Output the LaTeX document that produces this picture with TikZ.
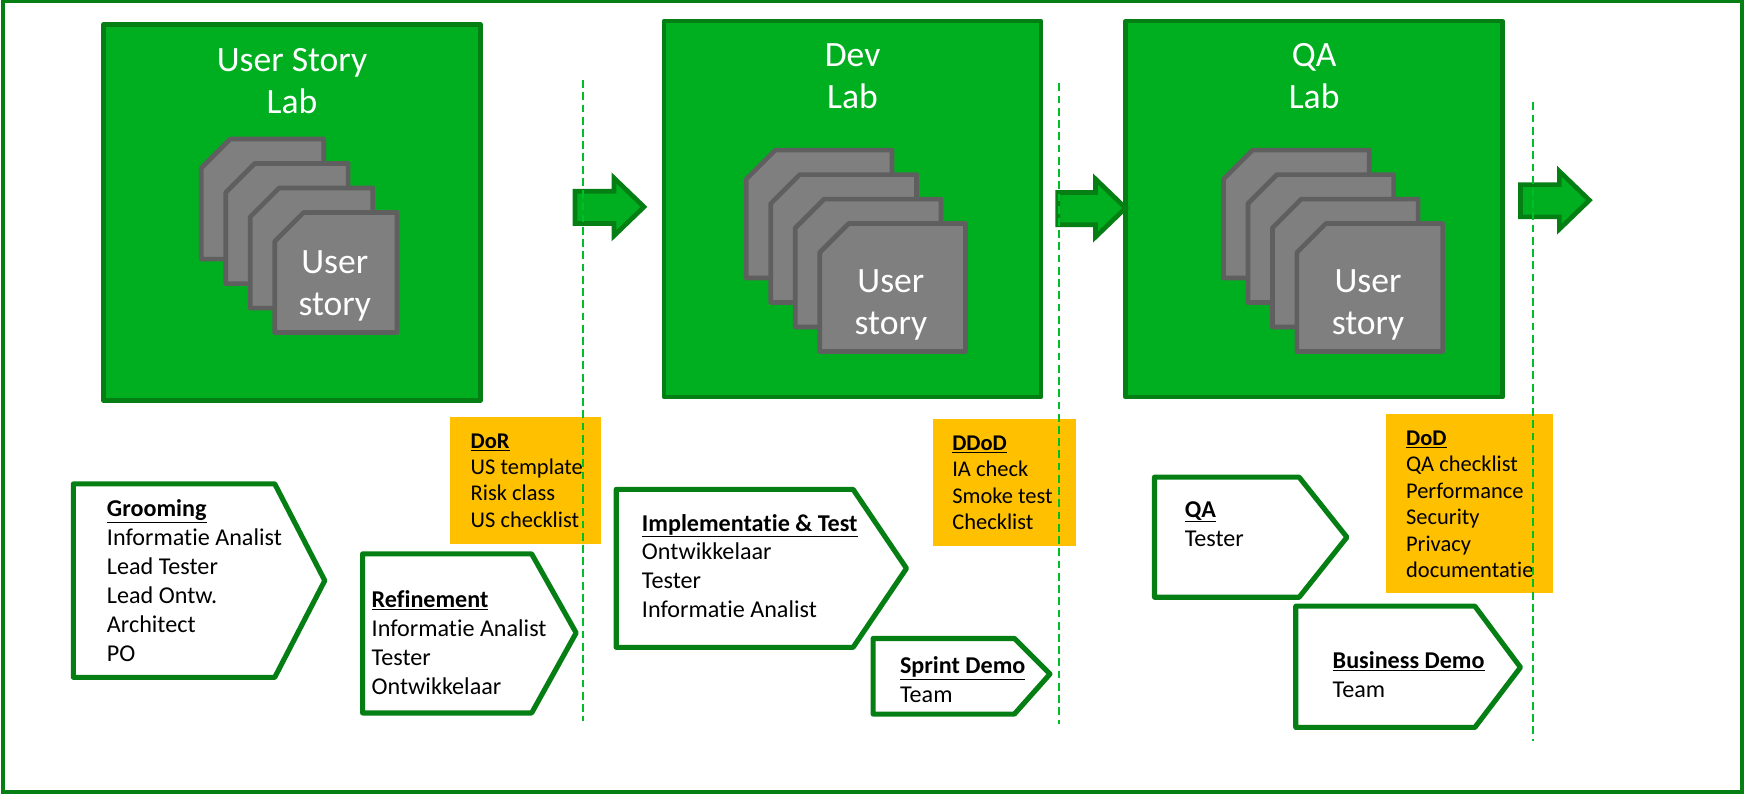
\documentclass[tikz,border=0pt]{standalone}
\usepackage{fontspec}
\setmainfont[Ligatures={NoCommon}]{Carlito}
\definecolor{labgreen}{HTML}{00AF1F}
\definecolor{darkgreen}{HTML}{057F14}
\definecolor{gategreen}{HTML}{00BE28}
\definecolor{cardgray}{HTML}{7F7F7F}
\definecolor{cardedge}{HTML}{5F5F5F}
\definecolor{checkyellow}{HTML}{FFC000}
\tikzset{
  labbox/.style={draw=darkgreen,fill=labgreen,line width=4pt,line join=round},
  labtitle/.style={text=white,font=\fontsize{32}{38}\selectfont,align=center,inner sep=0pt,anchor=north},
  storycard/.style={draw=cardedge,fill=cardgray,line width=4.2pt,line join=round},
  cardtext/.style={text=white,font=\fontsize{32}{38}\selectfont,align=center,inner sep=0pt},
  flowarrow/.style={draw=darkgreen,fill=labgreen,line width=4.2pt,line join=miter},
  gateline/.style={draw=gategreen,line width=1.5pt,dash pattern=on 7pt off 4pt},
  checkbox/.style={fill=checkyellow},
  activity/.style={draw=darkgreen,fill=white,line width=4.6pt,line join=round},
  steptext/.style={font=\fontsize{21.7}{26}\selectfont,align=left,inner sep=0pt,anchor=north west},
  checktext/.style={font=\fontsize{20.2}{23.8}\selectfont,align=left,inner sep=0pt,anchor=north west},
}
\newcommand{\headline}[1]{\underline{\textbf{#1}}}
% one stack of four cards, first corner at #1,#2, size #3 x #4
\newcommand{\cardstack}[4]{
  \foreach \k in {0,1,2,3}
    \draw[storycard] ({#1+22*\k},{#2+22*\k+26}) -- ({#1+22*\k+26},{#2+22*\k}) -- ({#1+22*\k+#3},{#2+22*\k})
      -- ({#1+22*\k+#3},{#2+22*\k+#4}) -- ({#1+22*\k},{#2+22*\k+#4}) -- cycle;
}
\begin{document}
\begin{tikzpicture}[x=1pt,y=-1pt]
  \useasboundingbox (0,0) rectangle (1568,713);
  \draw[darkgreen,line width=3.5pt] (3,1) -- (1566,1) -- (1566,712) -- (3,712) -- cycle;

  % labs
  \draw[labbox] (93,22) rectangle (432,360);
  \draw[labbox] (597,19) rectangle (936,357);
  \draw[labbox] (1012,19) rectangle (1351,357);
  \node[labtitle] (storytitle) at (262.5,43) {User Story\\Lab};
  \node[labtitle] (devtitle) at (766.5,39) {Dev\\Lab};
  \node[labtitle] (qatitle) at (1181.5,39) {QA\\Lab};

  \cardstack{181}{125}{110}{108}
  \cardstack{671}{135}{131}{115}
  \cardstack{1100}{135}{131}{115}
  \node[cardtext] (storycard) at (301,257) {User\\story};
  \node[cardtext] (devcard) at (801,274) {User\\story};
  \node[cardtext] (qacard) at (1230,274) {User\\story};

  % arrows between the labs
  \draw[flowarrow] (517,172) -- (552,172) -- (552,160) -- (579,186) -- (552,212) -- (552,201) -- (517,201) -- cycle;
  \draw[flowarrow] (951,173) -- (985,173) -- (985,161) -- (1012,187) -- (985,213) -- (985,202) -- (951,202) -- cycle;
  \draw[flowarrow] (1367,166) -- (1402,166) -- (1402,154) -- (1429,180) -- (1402,206) -- (1402,195) -- (1367,195) -- cycle;

  % checklists
  \fill[checkbox] (405,375) rectangle (540,489);
  \fill[checkbox] (839,377) rectangle (967,491);
  \fill[checkbox] (1246,372) rectangle (1396,533);
  \node[checktext] (dor) at (423,389.5) {\headline{DoR}\\US template\\Risk class\\US checklist};
  \node[checktext] (ddod) at (856,391.5) {\headline{DDoD}\\IA check\\Smoke test\\Checklist};
  \node[checktext] (dod) at (1264,387) {\headline{DoD}\\QA checklist\\Performance\\Security\\Privacy\\documentatie};

  % activities
  \draw[activity] (66,435) -- (247,435) -- (292,522) -- (247,609) -- (66,609) -- cycle;
  \draw[activity] (326,498) -- (478,498) -- (518,569) -- (478,641) -- (326,641) -- cycle;
  \draw[activity] (554,440) -- (767,440) -- (815,511) -- (767,582) -- (554,582) -- cycle;
  \draw[activity] (785,574) -- (912,574) -- (944,606) -- (912,642) -- (785,642) -- cycle;
  \draw[activity] (1038,429) -- (1168,429) -- (1211,483) -- (1168,537) -- (1038,537) -- cycle;
  \draw[activity] (1165,545) -- (1326,545) -- (1367,600) -- (1326,654) -- (1165,654) -- cycle;
  \node[steptext] (grooming) at (96,449) {\headline{Grooming}\\Informatie Analist\\Lead Tester\\Lead Ontw.\\Architect\\PO};
  \node[steptext] (refinement) at (334,531) {\headline{Refinement}\\Informatie Analist\\Tester\\Ontwikkelaar};
  \node[steptext] (impltest) at (577,462) {\headline{Implementatie \& Test}\\Ontwikkelaar\\Tester\\Informatie Analist};
  \node[steptext] (sprintdemo) at (809,590) {\headline{Sprint Demo}\\Team};
  \node[steptext] (qawork) at (1065,450.5) {\headline{QA}\\Tester};
  \node[steptext] (bizdemo) at (1198,586) {\headline{Business Demo}\\Team};

  % gates
  \coordinate (gateatop) at (524,72);
  \coordinate (gateabot) at (524,648);
  \coordinate (gatebtop) at (952,75);
  \coordinate (gatebbot) at (952,651);
  \coordinate (gatectop) at (1378,92);
  \coordinate (gatecbot) at (1378,666);
  \draw[gateline] (gateatop) -- (gateabot);
  \draw[gateline] (gatebtop) -- (gatebbot);
  \draw[gateline] (gatectop) -- (gatecbot);
\end{tikzpicture}
\end{document}
